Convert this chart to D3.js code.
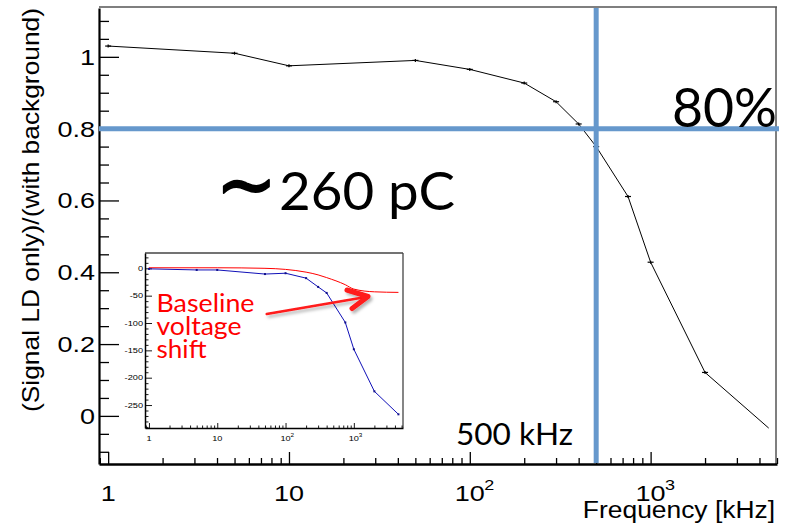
<!DOCTYPE html>
<html>
<head>
<meta charset="utf-8">
<script src="https://cdn.jsdelivr.net/npm/d3@7"></script>
<style>
  body { margin: 0; background: #fff; }
  svg { display: block; }
</style>
</head>
<body>
<svg id="chart" width="786" height="525"></svg>
<script>
// Main curve: ratio of signal-only to signal-with-background vs. frequency
const freq  = [1, 5, 10, 50, 100, 200, 300, 400, 500, 750, 1000, 2000, 4500];
const ratio = [1.03, 1.01, 0.975, 0.99, 0.965, 0.927, 0.875, 0.813, 0.75, 0.611, 0.428, 0.121, -0.034];

// Inset: signal shift (blue, with markers) and baseline voltage shift (red)
const insetFreq      = [1, 5, 10, 50, 100, 200, 300, 400, 750, 1000, 2000, 4500];
const signalShift    = [-1, -3, -3, -10.5, -9, -18, -34, -45, -99, -148, -225, -267];
const baselineFreq   = [1, 10, 50, 100, 200, 300, 400, 750, 1000, 2000, 4500];
const baselineShift  = [1, 1, 0, -2, -7, -12, -17, -30, -38, -43, -44];

// Tick values and labels
const yTicks       = [0, 0.2, 0.4, 0.6, 0.8, 1];
const yTickLabels  = ["0", "0.2", "0.4", "0.6", "0.8", "1"];
const xDecades     = [1, 10, 100, 1000];
const xBase        = ["1", "10", "10", "10"];
const xExp         = ["", "", "2", "3"];
const insetYTicks  = [0, -50, -100, -150, -200, -250];

// Reference markers
const cutRatio = 0.8;
const cutFreq  = 500;

const svg = d3.select("#chart");
const BLUE = "#6698cc";

// ---------- main frame ----------
const L = 99, R = 777, T = 8, B = 464;
const x = d3.scaleLog().domain([0.89, 5000]).range([L, R]);
const y = d3.scaleLinear().domain([-0.134, 1.136]).range([B, T]);

// minor tick helpers
function logMinors(scale) {
  const [d0, d1] = scale.domain();
  const out = [];
  for (let p = -1; p <= 4; p++) {
    for (let m = 2; m <= 9; m++) {
      const v = m * Math.pow(10, p);
      if (v >= d0 && v <= d1) out.push(v);
    }
  }
  return out;
}
function linMinors(scale, step, majors) {
  const [d0, d1] = scale.domain();
  const out = [];
  const k0 = Math.ceil(d0 / step), k1 = Math.floor(d1 / step);
  for (let k = k0; k <= k1; k++) {
    const v = +(k * step).toFixed(6);
    if (!majors.some(m => Math.abs(m - v) < 1e-9)) out.push(v);
  }
  return out;
}

// top / right frame lines
svg.append("line").attr("x1", L).attr("x2", R).attr("y1", T - 1).attr("y2", T - 1)
  .attr("stroke", "#555").attr("stroke-width", 1.5);
svg.append("line").attr("x1", R - 1).attr("x2", R - 1).attr("y1", T - 1).attr("y2", B)
  .attr("stroke", "#555").attr("stroke-width", 1.5);

// y axis: majors + minors
const yAxisG = svg.append("g").attr("transform", `translate(${L},0)`);
yAxisG.call(d3.axisLeft(y).tickValues(yTicks).tickSize(-20).tickSizeOuter(0).tickFormat(""));
yAxisG.append("g").call(d3.axisLeft(y).tickValues(linMinors(y, 0.05, yTicks)).tickSize(-10).tickSizeOuter(0).tickFormat(""))
  .select(".domain").remove();
yAxisG.selectAll("line").attr("stroke", "#000").attr("stroke-width", 1.3);
yAxisG.select(".domain").attr("stroke", "#000").attr("stroke-width", 2.2);

// x axis: majors + minors
const xAxisG = svg.append("g").attr("transform", `translate(0,${B})`);
xAxisG.call(d3.axisBottom(x).tickValues(xDecades).tickSize(-12).tickSizeOuter(0).tickFormat(""));
xAxisG.append("g").call(d3.axisBottom(x).tickValues(logMinors(x)).tickSize(-6).tickSizeOuter(0).tickFormat(""))
  .select(".domain").remove();
xAxisG.selectAll("line").attr("stroke", "#000").attr("stroke-width", 1.3);
xAxisG.select(".domain").attr("stroke", "#000").attr("stroke-width", 2.6);

// tick labels
const tickFont = "'Liberation Sans', Arial, Helvetica, sans-serif";
yTicks.forEach((v, i) => {
  svg.append("text")
    .attr("transform", `translate(95,${y(v) + 8}) scale(1.2,1)`)
    .attr("text-anchor", "end")
    .attr("font-family", tickFont).attr("font-size", 22.5).attr("fill", "#000")
    .text(yTickLabels[i]);
});
xDecades.forEach((v, i) => {
  const g = svg.append("g").attr("transform", `translate(${x(v)},501) scale(1.2,1)`);
  g.append("text").attr("text-anchor", "middle")
    .attr("font-family", tickFont).attr("font-size", 22.5).attr("fill", "#000")
    .text(xBase[i]);
  if (xExp[i]) {
    g.append("text").attr("x", 12).attr("y", -11)
      .attr("font-family", tickFont).attr("font-size", 15).attr("fill", "#000")
      .text(xExp[i]);
  }
});

// axis titles
svg.append("text")
  .attr("transform", `translate(775,518) scale(1.1,1)`)
  .attr("text-anchor", "end")
  .attr("font-family", tickFont).attr("font-size", 24).attr("fill", "#000")
  .text("Frequency [kHz]");
svg.append("text")
  .attr("transform", `translate(39,210) rotate(-90)`)
  .attr("text-anchor", "middle")
  .attr("font-family", tickFont).attr("font-size", 24).attr("fill", "#000")
  .attr("textLength", 404).attr("lengthAdjust", "spacingAndGlyphs")
  .text("(Signal LD only)/(with background)");

// main curve
const mainPts = freq.map((f, i) => [f, ratio[i]]);
svg.append("path")
  .datum(mainPts)
  .attr("fill", "none").attr("stroke", "#000").attr("stroke-width", 1)
  .attr("d", d3.line().x(d => x(d[0])).y(d => y(d[1])));
const mk = svg.append("g").attr("stroke", "#000").attr("stroke-width", 1.2);
mainPts.slice(0, -1).forEach(d => {
  mk.append("line").attr("x1", x(d[0]) - 3).attr("x2", x(d[0]) + 3).attr("y1", y(d[1])).attr("y2", y(d[1]));
  mk.append("line").attr("x1", x(d[0])).attr("x2", x(d[0])).attr("y1", y(d[1]) - 1.5).attr("y2", y(d[1]) + 1.5);
});

// ---------- inset ----------
const iL = 145, iR = 403, iT = 253, iB = 428;
const ix = d3.scaleLog().domain([Math.pow(10, -0.058), Math.pow(10, 3.72)]).range([iL, iR]);
const iy = d3.scaleLinear().domain([-292, 28]).range([iB, iT]);

svg.append("rect").attr("x", iL).attr("y", iT).attr("width", iR - iL).attr("height", iB - iT).attr("fill", "#fff");
svg.append("line").attr("x1", iL).attr("x2", iR).attr("y1", iT).attr("y2", iT).attr("stroke", "#444").attr("stroke-width", 1.3);
svg.append("line").attr("x1", iR).attr("x2", iR).attr("y1", iT).attr("y2", iB).attr("stroke", "#444").attr("stroke-width", 1.3);

const iyAxis = svg.append("g").attr("transform", `translate(${iL},0)`);
iyAxis.call(d3.axisLeft(iy).tickValues(insetYTicks).tickSize(-7).tickSizeOuter(0).tickFormat(""));
iyAxis.append("g").call(d3.axisLeft(iy).tickValues(linMinors(iy, 10, insetYTicks)).tickSize(-3.5).tickSizeOuter(0).tickFormat(""))
  .select(".domain").remove();
iyAxis.selectAll("line").attr("stroke", "#000").attr("stroke-width", 0.9);
iyAxis.select(".domain").attr("stroke", "#000").attr("stroke-width", 1.5);

const ixAxis = svg.append("g").attr("transform", `translate(0,${iB})`);
ixAxis.call(d3.axisBottom(ix).tickValues(xDecades).tickSize(-5).tickSizeOuter(0).tickFormat(""));
ixAxis.append("g").call(d3.axisBottom(ix).tickValues(logMinors(ix)).tickSize(-2.5).tickSizeOuter(0).tickFormat(""))
  .select(".domain").remove();
ixAxis.selectAll("line").attr("stroke", "#000").attr("stroke-width", 0.9);
ixAxis.select(".domain").attr("stroke", "#000").attr("stroke-width", 1.6);

insetYTicks.forEach(v => {
  svg.append("text")
    .attr("transform", `translate(143,${iy(v) + 2.8}) scale(1.15,1)`)
    .attr("text-anchor", "end")
    .attr("font-family", tickFont).attr("font-size", 8).attr("fill", "#000")
    .text(String(v));
});
xDecades.forEach((v, i) => {
  const g = svg.append("g").attr("transform", `translate(${ix(v)},441) scale(1.15,1)`);
  g.append("text").attr("text-anchor", "middle")
    .attr("font-family", tickFont).attr("font-size", 8).attr("fill", "#000")
    .text(xBase[i]);
  if (xExp[i]) {
    g.append("text").attr("x", 4.3).attr("y", -3.8)
      .attr("font-family", tickFont).attr("font-size", 5.5).attr("fill", "#000")
      .text(xExp[i]);
  }
});

// baseline shift (red, smooth)
svg.append("path")
  .datum(baselineFreq.map((f, i) => [f, baselineShift[i]]))
  .attr("fill", "none").attr("stroke", "#ff0000").attr("stroke-width", 1)
  .attr("d", d3.line().curve(d3.curveMonotoneX).x(d => ix(d[0])).y(d => iy(d[1])));

// signal shift (blue, with markers)
const sigPts = insetFreq.map((f, i) => [f, signalShift[i]]);
svg.append("path")
  .datum(sigPts)
  .attr("fill", "none").attr("stroke", "#1010b8").attr("stroke-width", 1)
  .attr("d", d3.line().x(d => ix(d[0])).y(d => iy(d[1])));
svg.append("g").selectAll("rect").data(sigPts).join("rect")
  .attr("x", d => ix(d[0]) - 1).attr("y", d => iy(d[1]) - 1)
  .attr("width", 2).attr("height", 2).attr("fill", "#10108a");

// ---------- annotations ----------
const annFont = "Lato, 'Open Sans', 'Noto Sans', sans-serif";

// red label and arrow
const redText = [["Baseline", 311.7, 98], ["voltage", 335, 85], ["shift", 358, 50]];
redText.forEach(([t, by, w]) => {
  svg.append("text").attr("x", 156.5).attr("y", by)
    .attr("font-family", annFont).attr("font-size", 24.5).attr("fill", "#ff0000")
    .attr("textLength", w).attr("lengthAdjust", "spacingAndGlyphs")
    .text(t);
});
const defs = svg.append("defs");
const shadow = defs.append("filter").attr("id", "arrowShadow")
  .attr("x", "-20%").attr("y", "-50%").attr("width", "150%").attr("height", "200%");
shadow.append("feDropShadow").attr("dx", 2).attr("dy", 2.5).attr("stdDeviation", 1.5)
  .attr("flood-color", "#000").attr("flood-opacity", 0.3);
const arrow = svg.append("g").attr("filter", "url(#arrowShadow)")
  .attr("stroke", "#ff1a1a").attr("fill", "none").attr("stroke-linecap", "round").attr("stroke-linejoin", "round");
arrow.append("line").attr("x1", 266.7).attr("y1", 314).attr("x2", 366).attr("y2", 297).attr("stroke-width", 2.5);
arrow.append("polyline").attr("points", "347,290 368,296.5 352,308.5").attr("stroke-width", 5);

// reference lines at 80% and 500 kHz
svg.append("line")
  .attr("x1", L).attr("x2", R + 2).attr("y1", y(cutRatio)).attr("y2", y(cutRatio))
  .attr("stroke", BLUE).attr("stroke-width", 5);
svg.append("line")
  .attr("x1", x(cutFreq)).attr("x2", x(cutFreq)).attr("y1", T).attr("y2", B - 1)
  .attr("stroke", BLUE).attr("stroke-width", 5);

// big labels
svg.append("text").attr("x", 672).attr("y", 127)
  .attr("font-family", annFont).attr("font-size", 54).attr("fill", "#000")
  .attr("textLength", 105).attr("lengthAdjust", "spacingAndGlyphs")
  .text("80%");
// charge label: a wide, heavy tilde followed by the value
svg.append("text")
  .attr("transform", "translate(216,211) scale(1.25,1.35)")
  .attr("font-family", "'DejaVu Sans', sans-serif").attr("font-size", 58)
  .attr("fill", "#000").attr("stroke", "#000").attr("stroke-width", 1.3)
  .attr("stroke-linejoin", "round")
  .text("\u223C");
svg.append("text")
  .attr("x", 279).attr("y", 210)
  .attr("font-family", annFont).attr("font-size", 53).attr("fill", "#000")
  .attr("textLength", 176).attr("lengthAdjust", "spacingAndGlyphs")
  .text("260 pC");
svg.append("text").attr("x", 456).attr("y", 445)
  .attr("font-family", annFont).attr("font-size", 31).attr("fill", "#000")
  .attr("textLength", 117).attr("lengthAdjust", "spacingAndGlyphs")
  .text("500 kHz");
</script>
</body>
</html>
